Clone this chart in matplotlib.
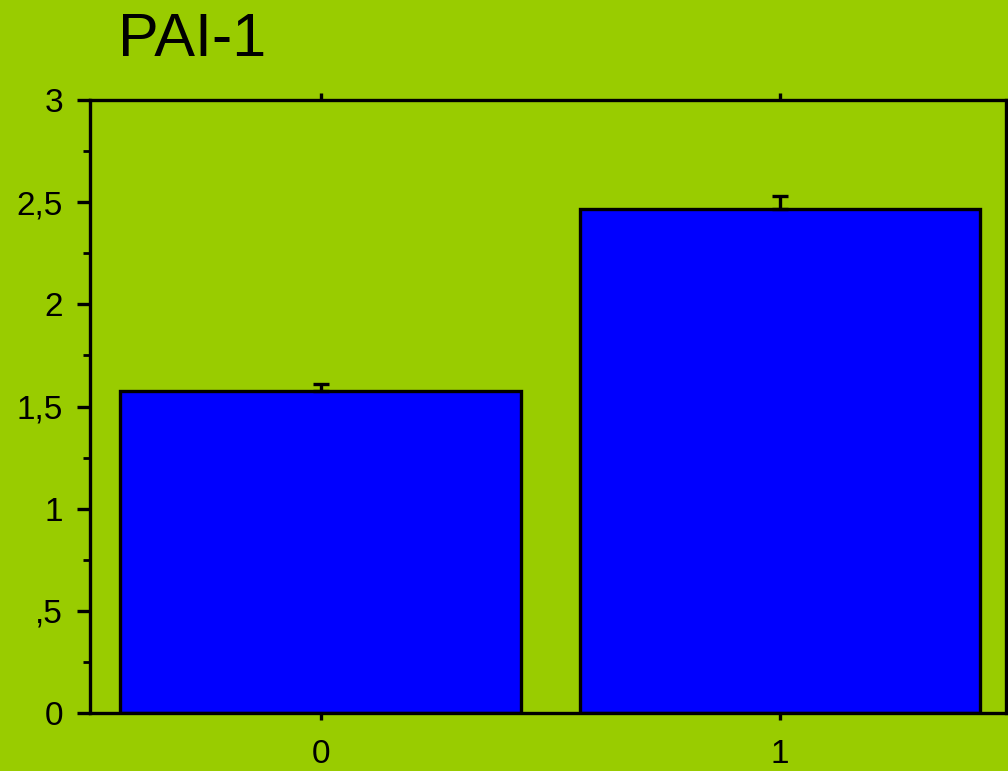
import numpy as np
import matplotlib.pyplot as plt
from matplotlib.ticker import MultipleLocator, FixedFormatter, FixedLocator

groups = ["0", "1"]
means = [1.575, 2.467]
upper_err = [0.035, 0.063]
ytick_vals = [0, 0.5, 1, 1.5, 2, 2.5, 3]
ytick_labels = ["0", ",5", "1", "1,5", "2", "2,5", "3"]

green = "#99CC00"
plt.rcParams["font.family"] = ["Liberation Sans", "DejaVu Sans"]

fig = plt.figure(figsize=(10.08, 7.71), dpi=100, facecolor=green)
ax = fig.add_axes([90 / 1008, 1 - 713 / 771, 916 / 1008, 613 / 771])
ax.set_facecolor(green)

x = np.arange(len(groups))
ax.bar(x, means, width=0.872, color="#0000FF", edgecolor="black",
       linewidth=2.4, zorder=2)
ax.errorbar(x, means, yerr=[[0] * len(means), upper_err], fmt="none",
            ecolor="black", elinewidth=2.4, capsize=6, capthick=2.4, zorder=3)

ax.set_xlim(-0.502, 1.492)
ax.set_ylim(0, 3)

for s in ax.spines.values():
    s.set_linewidth(2.4)

ax.yaxis.set_major_locator(FixedLocator(ytick_vals))
ax.yaxis.set_major_formatter(FixedFormatter(ytick_labels))
ax.yaxis.set_minor_locator(MultipleLocator(0.25))
ax.set_xticks(x)
ax.set_xticklabels(groups)

ax.tick_params(axis="y", which="major", direction="out", length=9.5, width=2.4,
               pad=10, labelsize=24)
ax.tick_params(axis="y", which="minor", direction="out", length=5, width=2)
ax.tick_params(axis="x", which="major", direction="out", length=5, width=2.4,
               pad=14, labelsize=24, top=True)

fig.text(118 / 1008, 1 - 40 / 771, "PAI-1", fontsize=44, va="center", ha="left")

fig.savefig("out.png", dpi=100, facecolor=green)
